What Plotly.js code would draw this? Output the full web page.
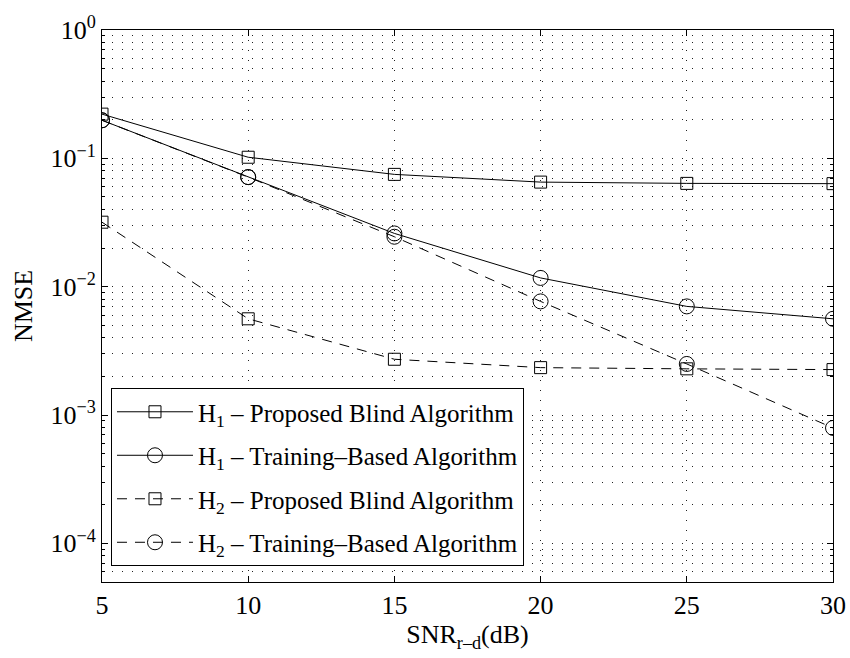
<!DOCTYPE html>
<html>
<head>
<meta charset="utf-8">
<script src="https://cdn.plot.ly/plotly-3.0.1.min.js"></script>
<style>html,body{margin:0;padding:0;background:#fff;}#chart{width:850px;height:658px;}</style>
</head>
<body>
<div id="chart"></div>
<script>
const snr = [5, 10, 15, 20, 25, 30];
const h1Blind = [0.221, 0.102, 0.075, 0.0653, 0.0638, 0.0635];
const h1Train = [0.198, 0.0714, 0.026, 0.0117, 0.00702, 0.00562];
const h2Blind = [0.0318, 0.00562, 0.00272, 0.00234, 0.00229, 0.00226];
const h2Train = [0.198, 0.0714, 0.0245, 0.00768, 0.0025, 0.000793];
const names = [
  'H<sub>1</sub> – Proposed Blind Algorithm',
  'H<sub>1</sub> – Training–Based Algorithm',
  'H<sub>2</sub> – Proposed Blind Algorithm',
  'H<sub>2</sub> – Training–Based Algorithm'
];
const yTickVals = [1, 0.1, 0.01, 0.001, 0.0001];
const yTickText = ['10<sup>0</sup>', '10<sup>−1</sup>', '10<sup>−2</sup>', '10<sup>−3</sup>', '10<sup>−4</sup>'];
const xTickVals = [5, 10, 15, 20, 25, 30];

const series = [h1Blind, h1Train, h2Blind, h2Train];
const symbols = ['square-open', 'circle-open', 'square-open', 'circle-open'];
const dashes = ['solid', 'solid', '10px,8px', '10px,8px'];
const sizes = [12, 15, 12, 15];

const traces = series.map((s, i) => ({
  x: snr, y: s, name: names[i], type: 'scatter', mode: 'lines+markers',
  legendgroup: 'g' + i,
  line: {color: '#000', width: 1, dash: dashes[i]},
  marker: {symbol: symbols[i], size: sizes[i], color: '#000', line: {color: '#000', width: 1}}
}));

const gridDash = '1px,9px';
const layout = {
  width: 850, height: 658,
  margin: {l: 102, r: 17, t: 30, b: 76},
  paper_bgcolor: '#fff', plot_bgcolor: '#fff',
  font: {family: 'Liberation Serif, Times New Roman, serif', size: 25, color: '#000'},
  showlegend: true,
  legend: {
    x: 0.0123, y: 0.3514, xanchor: 'left', yanchor: 'top',
    bgcolor: '#fff', bordercolor: '#000', borderwidth: 1,
    font: {family: 'Liberation Serif, serif', size: 25, color: '#000'},
    itemwidth: 76, tracegroupgap: 8
  },
  xaxis: {
    type: 'linear', range: [5, 30], tickvals: xTickVals,
    ticks: 'inside', ticklen: 6, tickcolor: '#000',
    showline: true, linecolor: '#000', linewidth: 1, mirror: 'ticks',
    showgrid: true, gridcolor: '#222', griddash: gridDash, gridwidth: 1,
    zeroline: false,
    tickfont: {size: 26},
    title: {text: 'SNR<sub>r–d</sub>(dB)', font: {size: 26}, standoff: 0}
  },
  yaxis: {
    type: 'log', range: [Math.log10(5e-5), 0],
    tickvals: yTickVals, ticktext: yTickText,
    ticks: 'inside', ticklen: 6, tickcolor: '#000',
    showline: true, linecolor: '#000', linewidth: 1, mirror: 'ticks',
    showgrid: true, gridcolor: '#222', griddash: gridDash, gridwidth: 1,
    zeroline: false,
    tickfont: {size: 26},
    minor: {dtick: 'D1', ticks: 'inside', ticklen: 3, tickcolor: '#000', showgrid: true, gridcolor: '#222', griddash: gridDash, gridwidth: 1},
    title: {text: 'NMSE', font: {size: 26}, standoff: 10}
  }
};

Plotly.newPlot('chart', traces, layout, {displayModeBar: false, staticPlot: true});
</script>
</body>
</html>
